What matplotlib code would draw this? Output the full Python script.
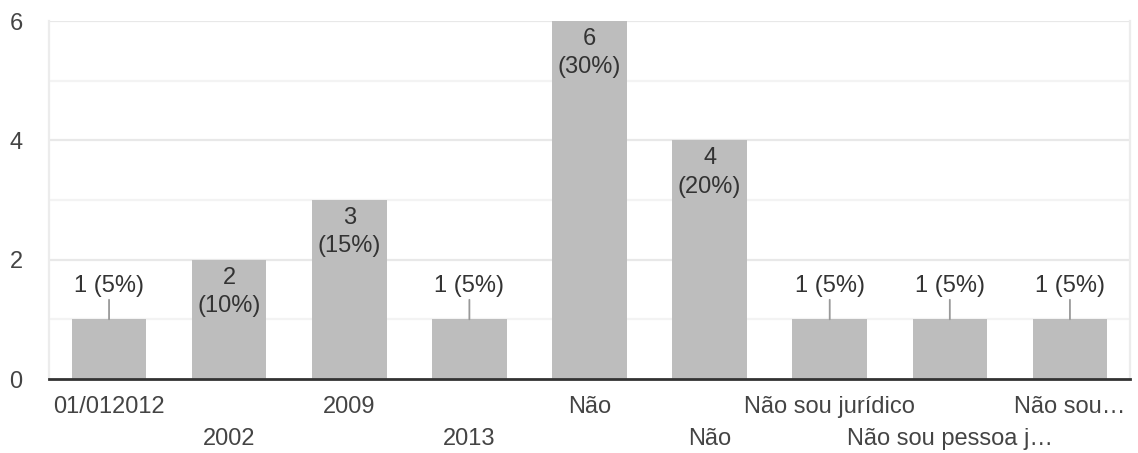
import numpy as np
import matplotlib.pyplot as plt

plt.rcParams['font.family'] = ['Liberation Sans', 'DejaVu Sans']

# Dados
categorias = ["01/012012", "2002", "2009", "2013", "Não", "Não",
              "Não sou jurídico", "Não sou pessoa j…", "Não sou…"]
valores = [1, 2, 3, 1, 6, 4, 1, 1, 1]
total = 20

cor_barra = "#bdbdbd"
cor_texto = "#444444"

fig = plt.figure(figsize=(11.38, 4.53), dpi=100)
ax = fig.add_axes([49 / 1138, 74 / 453, 1081 / 1138, 358 / 453])

x = np.arange(len(categorias))
ax.bar(x, valores, width=0.62, color=cor_barra, zorder=2)

ax.set_xlim(-0.5, len(categorias) - 0.5)
ax.set_ylim(0, 6)

# Grade
for v in range(1, 7):
    cor = "#e8e8e8" if v % 2 == 0 else "#f3f3f3"
    ax.axhline(v, color=cor, lw=1.6, zorder=1)

ax.spines["top"].set_visible(False)
for lado in ["left", "right"]:
    ax.spines[lado].set_color("#ececec")
    ax.spines[lado].set_linewidth(1.6)
ax.spines["bottom"].set_color("#333333")
ax.spines["bottom"].set_linewidth(2)
ax.spines["bottom"].set_zorder(3)

# Eixo y
ax.set_yticks([0, 2, 4, 6])
ax.tick_params(axis="y", length=0, pad=19, labelsize=17, labelcolor=cor_texto)

# Eixo x: rótulos alternados em duas linhas
ax.set_xticks(x[::2])
ax.set_xticklabels(categorias[::2])
ax.set_xticks(x[1::2], minor=True)
ax.set_xticklabels(categorias[1::2], minor=True)
ax.tick_params(axis="x", which="major", length=0, pad=12, labelsize=17, labelcolor=cor_texto)
ax.tick_params(axis="x", which="minor", length=0, pad=35, labelsize=17, labelcolor=cor_texto)

# Rótulos das barras
for i, v in enumerate(valores):
    pct = round(100 * v / total)
    if v >= 2:
        ax.annotate(f"{v}\n({pct}%)", xy=(i, v), xytext=(0, -5),
                    textcoords="offset points", ha="center", va="top",
                    fontsize=17, color="#333333", linespacing=1.38, zorder=4)
    else:
        ax.annotate(f"{v} ({pct}%)", xy=(i, v), xytext=(0, 24),
                    textcoords="offset points", ha="center", va="center",
                    fontsize=17, color="#333333", zorder=4,
                    arrowprops=dict(arrowstyle="-", color="#999999", lw=1.3,
                                    shrinkA=0, shrinkB=0))

fig.savefig("out.png", dpi=100)
